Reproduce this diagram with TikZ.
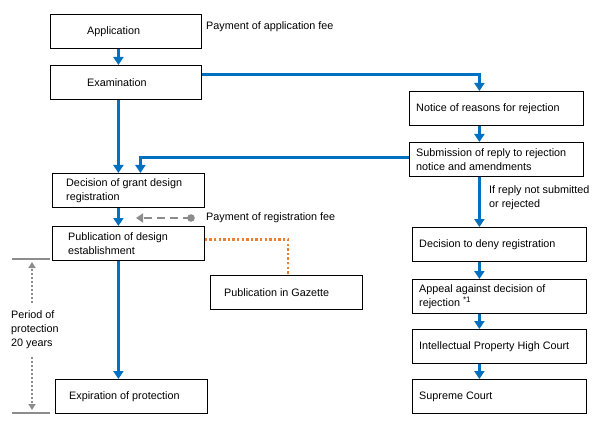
\documentclass[tikz,border=0pt]{standalone}
\usepackage{fontspec}
\setmainfont{Liberation Sans}
\usetikzlibrary{arrows.meta,calc}
\definecolor{mblue}{HTML}{0070C0}
\definecolor{morange}{HTML}{ED7D31}
\definecolor{mgray}{HTML}{8C8C8C}
\begin{document}
\begin{tikzpicture}[x=1pt,y=-1pt,
  font=\fontsize{10.8}{14}\selectfont,
  box/.style={draw, line width=0.8pt, inner sep=0pt, anchor=north west, minimum height=34pt},
  lbox/.style={box, minimum width=151pt},
  rbox/.style={box, minimum width=174pt},
  txt/.style={anchor=west, inner sep=0pt, align=left},
  flow/.style={mblue, line width=2.8pt, -{Triangle[width=10pt,length=8pt]}},
  fee/.style={mgray, line width=2pt, dash pattern=on 8pt off 5pt, -{Triangle[width=9pt,length=7pt]}},
  gaz/.style={morange, line width=2.4pt, dash pattern=on 2.4pt off 2.2pt},
  per/.style={mgray, line width=2pt, dash pattern=on 2pt off 2pt, -{Triangle[width=7pt,length=6pt]}},
  bar/.style={mgray, line width=1.6pt}]
\useasboundingbox (0,0) rectangle (592,433);
% left column
\node[lbox] (app) at (50,14) {};
\node[txt] at ($(app.west)+(37,0)$) {Application};
\node[txt] (appfee) at (206,27) {Payment of application fee};
\node[lbox] (exam) at (50,65) {};
\node[txt] at ($(exam.west)+(37,0)$) {Examination};
\node[lbox, minimum width=152pt] (grant) at (52,173) {};
\node[txt] at ($(grant.west)+(14,0)$) {Decision of grant design\\registration};
\node[lbox, minimum width=152pt] (pub) at (52,226) {};
\node[txt] at ($(pub.west)+(16,0)$) {Publication of design\\establishment};
\node[lbox, minimum width=152pt] (gaz) at (210,275) {};
\node[txt] at ($(gaz.west)+(14,0)$) {Publication in Gazette};
\node[lbox, minimum width=152pt] (exp) at (55,379) {};
\node[txt] at ($(exp.west)+(14,0)$) {Expiration of protection};
\node[txt] (regfee) at (206,218) {Payment of registration fee};
\node[txt] (period) at (11,330) {Period of\\protection\\20 years};
% right column
\node[rbox] (notice) at (409,91) {};
\node[txt] at ($(notice.west)+(7,0)$) {Notice of reasons for rejection};
\node[rbox] (sub) at (409,142) {};
\node[txt] at ($(sub.west)+(7,0)$) {Submission of reply to rejection\\notice and amendments};
\node[txt] (ifrep) at (489,198) {If reply not submitted\\or rejected};
\node[rbox] (deny) at (412,227) {};
\node[txt] at ($(deny.west)+(7,0)$) {Decision to deny registration};
\node[rbox] (appeal) at (412,279) {};
\node[txt] at ($(appeal.west)+(7,0)$) {Appeal against decision of\\rejection \raisebox{3.5pt}{\fontsize{8}{8}\selectfont *1}};
\node[rbox] (ip) at (412,329) {};
\node[txt] at ($(ip.west)+(7,0)$) {Intellectual Property High Court};
\node[rbox] (sup) at (412,379) {};
\node[txt] at ($(sup.west)+(7,0)$) {Supreme Court};
% blue flow
\draw[flow] ([xshift=-7.5pt]app.south) -- ([xshift=-7.5pt]exam.north);
\draw[flow] ([xshift=-7.5pt]exam.south) -- ([xshift=-10pt]grant.north);
\draw[flow] ($(exam.east)+(0,-8)$) -| ([xshift=-17pt]notice.north);
\draw[flow] ([xshift=-17pt]notice.south) -- ([xshift=-17pt]sub.north);
\draw[flow] ([xshift=-17pt]sub.south) -- ([xshift=-20pt]deny.north);
\draw[flow] ($(sub.west)+(0,-2)$) -| ([xshift=12pt]grant.north);
\draw[flow] ([xshift=-10pt]grant.south) -- ([xshift=-10pt]pub.north);
\draw[flow] ([xshift=-10pt]pub.south) -- ([xshift=-13pt]exp.north);
\draw[flow] ([xshift=-20pt]deny.south) -- ([xshift=-20pt]appeal.north);
\draw[flow] ([xshift=-20pt]appeal.south) -- ([xshift=-20pt]ip.north);
\draw[flow] ([xshift=-20pt]ip.south) -- ([xshift=-20pt]sup.north);
% registration fee
\coordinate (feedot) at (191,218);
\coordinate (feeend) at (136,218);
\fill[mgray] (feedot) circle (3.8pt);
\draw[fee] (feedot) -- (feeend);
% gazette
\draw[gaz] ($(pub.east)+(0,-4)$) -| (gaz.north -| 288,0);
% period of protection
\draw[bar] (12,259) -- (50,259);
\draw[bar] (12,413) -- (50,413);
\draw[per] (32,303) -- (32,262);
\draw[per] (32,357) -- (32,410);
\end{tikzpicture}
\end{document}
